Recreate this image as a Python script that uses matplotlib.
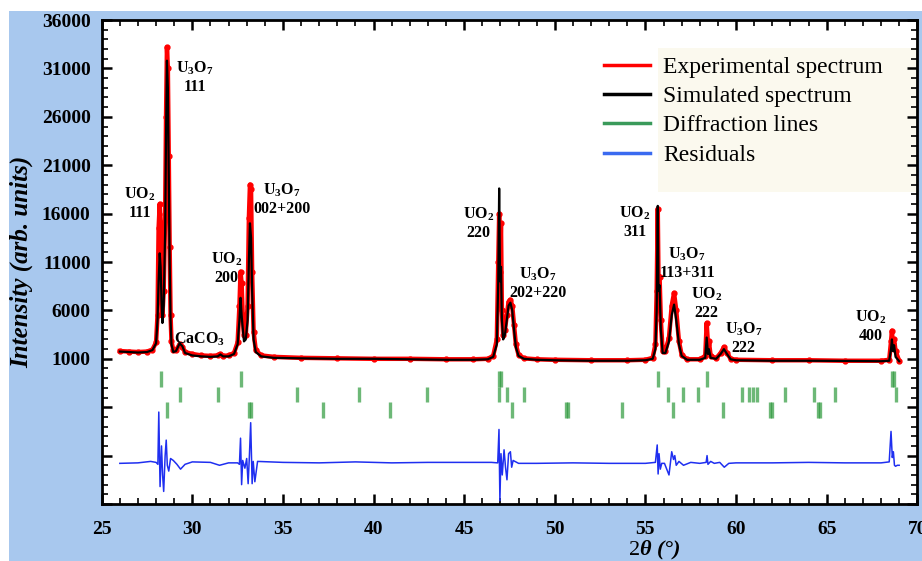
import matplotlib
matplotlib.use("Agg")
import matplotlib.pyplot as plt
from matplotlib.patches import Rectangle
from matplotlib.lines import Line2D
from matplotlib.ticker import MultipleLocator

plt.rcParams['font.family'] = ['Liberation Serif', 'DejaVu Serif']
plt.rcParams['mathtext.fontset'] = 'custom'
plt.rcParams['mathtext.rm'] = 'Liberation Serif'
plt.rcParams['mathtext.it'] = 'Liberation Serif:italic:bold'
plt.rcParams['mathtext.bf'] = 'Liberation Serif:bold'

# Spectre expérimental / simulé (2theta, intensité)
tt = [26.0, 26.5, 27.0, 27.5, 27.8, 28.0, 28.08, 28.14, 28.2, 28.25, 28.3, 28.35,
      28.42, 28.5, 28.55, 28.6, 28.65, 28.7, 28.75, 28.8, 28.85, 28.95, 29.1, 29.3,
      29.45, 29.6, 30.0, 30.5, 31.0, 31.4, 31.55, 31.7, 32.0, 32.3, 32.5, 32.6,
      32.66, 32.72, 32.78, 32.85, 32.95, 33.05, 33.12, 33.18, 33.24, 33.3, 33.38,
      33.5, 33.8, 34.5, 36.0, 38.0, 40.0, 42.0, 44.0, 45.5, 46.3, 46.6, 46.8,
      46.88, 46.93, 46.98, 47.03, 47.08, 47.15, 47.25, 47.35, 47.45, 47.55, 47.65,
      47.75, 47.85, 48.0, 48.3, 49.0, 50.0, 52.0, 54.0, 55.0, 55.4, 55.55, 55.62,
      55.68, 55.72, 55.78, 55.85, 55.95, 56.1, 56.3, 56.45, 56.58, 56.7, 56.85,
      57.0, 57.3, 58.0, 58.3, 58.38, 58.45, 58.5, 58.6, 58.9, 59.15, 59.33, 59.5,
      59.7, 60.0, 62.0, 64.0, 66.0, 68.0, 68.45, 68.55, 68.6, 68.65, 68.72, 68.8,
      69.0]
sim = [1750, 1700, 1650, 1700, 1900, 2600, 5000, 9000, 11900, 10500, 7000, 4700,
       6500, 14000, 24000, 31800, 29000, 20000, 11000, 5000, 2500, 1700, 1800, 2600,
       2300, 1600, 1350, 1250, 1200, 1250, 1450, 1250, 1250, 1500, 2500, 5000,
       7300, 5500, 4200, 2800, 3000, 5000, 11000, 15000, 13500, 8000, 3000,
       1700, 1250, 1100, 1050, 1000, 1000, 950, 900, 900, 950, 1200, 2500,
       9000, 18600, 9000, 10500, 5000, 3000, 3500, 5000, 6500, 6800, 6000,
       4000, 2200, 1300, 1000, 900, 850, 800, 800, 850, 1000, 2000, 6000,
       16800, 8000, 8600, 4000, 1600, 1600, 2800, 5500, 6600, 5000, 2500,
       1300, 900, 900, 1100, 3200, 1500, 2000, 1100, 1000, 1500, 2000, 1500,
       950, 850, 800, 800, 780, 750, 800, 2000, 3000, 1800, 2400, 1200,
       750]
exp = [1800, 1750, 1700, 1750, 1950, 2700, 5500, 14500, 17000, 15000, 9000, 5500,
       8000, 16000, 26000, 33200, 31000, 22000, 12500, 5500, 2800, 1900, 1900, 2500,
       2200, 1700, 1500, 1350, 1300, 1350, 1500, 1300, 1350, 1600, 2700, 6500,
       10000, 8800, 5500, 3500, 3500, 6500, 15500, 19000, 18500, 10000, 3800,
       1900, 1350, 1200, 1100, 1050, 1000, 1000, 950, 950, 1000, 1300, 3000,
       11000, 16000, 10000, 15000, 6000, 3500, 4000, 5500, 6900, 7100, 6500,
       4500, 2500, 1400, 1050, 950, 900, 850, 850, 900, 1100, 2500, 8000,
       16500, 9500, 9500, 5000, 1800, 1800, 3200, 6500, 7800, 6000, 2800,
       1400, 950, 950, 1300, 4700, 2500, 2800, 1300, 1050, 1600, 2200, 1600,
       1000, 900, 850, 850, 800, 800, 900, 2800, 3900, 2500, 3000, 1800,
       800]

# Résidus (décalés sous le spectre)
res_tt = [26.0, 27.0, 27.7, 28.0, 28.1, 28.15, 28.22, 28.3, 28.36, 28.42, 28.5,
          28.56, 28.62, 28.7, 28.8, 28.95, 29.15, 29.35, 29.6, 30.0, 31.0, 31.5,
          32.0, 32.5, 32.6, 32.66, 32.72, 32.78, 32.9, 33.0, 33.08, 33.15, 33.22,
          33.3, 33.36, 33.45, 33.6, 35.0, 37.0, 39.0, 41.0, 43.0, 45.0, 46.5,
          46.85, 46.92, 46.97, 47.03, 47.1, 47.2, 47.28, 47.36, 47.45, 47.55,
          47.62, 47.7, 47.8, 48.0, 49.0, 51.0, 53.0, 55.0, 55.55, 55.65, 55.7,
          55.75, 55.82, 55.9, 56.05, 56.3, 56.45, 56.55, 56.62, 56.7, 56.85,
          57.1, 57.5, 58.0, 58.35, 58.4, 58.45, 58.6, 58.8, 59.1, 59.35, 59.6,
          60.0, 62.0, 64.0, 66.0, 68.0, 68.45, 68.55, 68.62, 68.68, 68.74, 68.8,
          68.9, 69.0]
res = [-9800, -9750, -9600, -9700, -9900, -4500, -12200, -8000, -11000, -12700, -9000,
       -7400, -10000, -10600, -9300, -9500, -9900, -10400, -9900, -9650, -9700, -10000,
       -9750, -9750, -9900, -7200, -12000, -9500, -10300, -9300, -11900, -9000, -5600,
       -11900, -9600, -11700, -9600, -9700, -9750, -9650, -9750, -9700, -9700, -9700,
       -9750, -6300, -13650, -8800, -11000, -8400, -10200, -11500, -8800, -8600,
       -10200, -9500, -9600, -9800, -9800, -9750, -9800, -9800, -9700, -7900, -10900,
       -8800, -10400, -9800, -9800, -11000, -8600, -9400, -9000, -10000, -9600,
       -10000, -9700, -9800, -9700, -9000, -9900, -9600, -9800, -9700, -10200, -9800,
       -9750, -9750, -9700, -9750, -9750, -9650, -6500, -9200, -8600, -10000, -10100,
       -10000, -10000]

# Raies de diffraction (UO2, CaCO3, U3O7)
lines_uo2 = [28.25, 32.71, 46.93, 47.04, 55.71, 58.42, 68.6, 68.7]
lines_caco3 = [29.3, 31.39, 35.8, 39.2, 42.94, 46.9, 47.35, 48.31, 56.26, 57.07,
               57.91, 60.34, 60.74, 60.95, 61.16, 62.72, 64.28, 65.48, 68.8]
lines_u3o7 = [28.62, 33.15, 33.25, 37.21, 40.89, 47.66, 50.63, 50.73, 53.69,
              56.53, 59.29, 61.88, 62.0, 64.5, 64.62]

labels = [r'UO$_\mathbf{2}$' + '\n111', r'U$_\mathbf{3}$O$_\mathbf{7}$' + '\n111',
          r'UO$_\mathbf{2}$' + '\n200', r'U$_\mathbf{3}$O$_\mathbf{7}$' + '\n002+200',
          r'CaCO$_\mathbf{3}$', r'UO$_\mathbf{2}$' + '\n220',
          r'U$_\mathbf{3}$O$_\mathbf{7}$' + '\n202+220', r'UO$_\mathbf{2}$' + '\n311',
          r'U$_\mathbf{3}$O$_\mathbf{7}$' + '\n113+311', r'UO$_\mathbf{2}$' + '\n222',
          r'U$_\mathbf{3}$O$_\mathbf{7}$' + '\n222', r'UO$_\mathbf{2}$' + '\n400']
lab_x = [27.1, 30.15, 31.87, 34.95, 30.4, 45.77, 49.07, 54.4, 57.3, 58.36, 60.43, 67.45]
lab_y = [18900, 31900, 12200, 19300, 3900, 16800, 10600, 16900, 12700, 8550, 4900, 6200]

fig = plt.figure(figsize=(9.22, 5.61), dpi=100)
fig.patch.set_facecolor('white')
fig.add_artist(Rectangle((9 / 922, 0), 1, 1 - 11 / 561, transform=fig.transFigure,
                         facecolor='#a8c8ee', edgecolor='none', zorder=-10))
ax = fig.add_axes([0.1103, 0.1016, 0.8846, 0.8627])
ax.set_facecolor('white')

# cadre crème derrière la légende
ax.add_patch(Rectangle((0.682, 0.645), 0.318, 0.297, transform=ax.transAxes,
                       facecolor='#fbf9ee', edgecolor='none', zorder=0))

ax.plot(tt, exp, color='red', lw=3.2, marker='o', ms=3.5, zorder=2)
ax.plot(tt, sim, color='black', lw=1.6, zorder=3)
ax.plot(res_tt, res, color='#1f2ff0', lw=1.1, zorder=3)

ax.vlines(lines_uo2, -300, -1900, color='#2f9a3e', lw=2.4, alpha=0.7, zorder=2)
ax.vlines(lines_caco3, -1900, -3500, color='#2f9a3e', lw=2.4, alpha=0.7, zorder=2)
ax.vlines(lines_u3o7, -3500, -5100, color='#2f9a3e', lw=2.4, alpha=0.7, zorder=2)

for s, x, y in zip(labels, lab_x, lab_y):
    ax.text(x, y, s, ha='center', va='top', fontsize=11.5, fontweight='bold',
            multialignment='center', linespacing=1.15, zorder=4)

ax.set_xlim(25, 70)
ax.set_ylim(-14000, 36000)
ax.xaxis.set_major_locator(MultipleLocator(5))
ax.xaxis.set_minor_locator(MultipleLocator(1))
yt = list(range(-14000, 36001, 5000))
ax.set_yticks(yt)
ax.set_yticklabels([str(v) if v > 0 else '' for v in yt])
ax.yaxis.set_minor_locator(MultipleLocator(1000))
ax.tick_params(which='both', direction='in', top=True, right=True, width=1.8)
ax.tick_params(which='major', length=7)
ax.tick_params(which='minor', length=4, width=1.2)
ax.tick_params(axis='x', pad=12)
ax.tick_params(axis='y', pad=8)
for lab in ax.get_xticklabels() + ax.get_yticklabels():
    lab.set_fontweight('bold')
    lab.set_fontsize(14)
for sp in ax.spines.values():
    sp.set_linewidth(2)

ax.set_ylabel('Intensity (arb. units)', fontsize=18, fontstyle='italic',
              fontweight='bold', labelpad=6)
ax.set_xlabel(r'$2\theta$ (°)', fontsize=16, fontstyle='italic', fontweight='bold')
ax.xaxis.set_label_coords(0.678, -0.072)

handles = [Line2D([], [], color='red', lw=2.5), Line2D([], [], color='black', lw=2.5),
           Line2D([], [], color='#3a9a5a', lw=2.5), Line2D([], [], color='#3a6af0', lw=2.5)]
names = ['Experimental spectrum', 'Simulated spectrum', 'Diffraction lines', 'Residuals']
ax.legend(handles, names, loc='upper left', bbox_to_anchor=(0.616, 0.925),
          frameon=False, fontsize=17, handlelength=1.95, handletextpad=0.55,
          labelspacing=0.33, borderpad=0, borderaxespad=0)

fig.savefig('out.png', dpi=100)
